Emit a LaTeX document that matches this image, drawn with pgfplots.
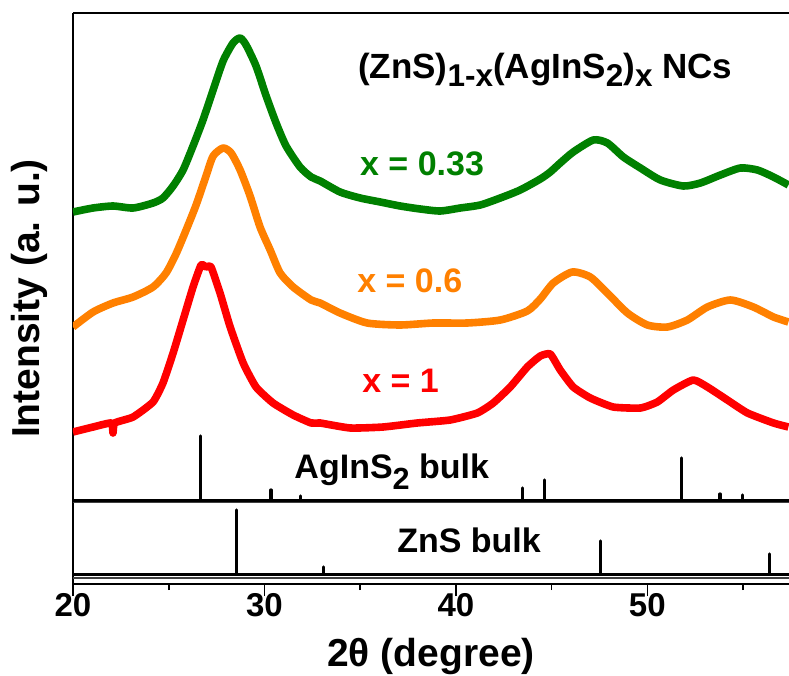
\documentclass[border=0pt]{standalone}
\usepackage{fontspec}
\setmainfont{Liberation Sans}
\usepackage{graphicx}
\usepackage{pgfplots}
\pgfplotsset{compat=1.18}
\definecolor{cgreen}{RGB}{0,128,0}
\definecolor{corange}{RGB}{255,128,0}
\definecolor{cred}{RGB}{255,0,0}
\newcommand\sub[2][0.25em]{\raisebox{-#1}{\scalebox{0.9}{#2}}}
\begin{document}
\begin{tikzpicture}
\begin{axis}[
  scale only axis, width=358pt, height=285.5pt,
  xmin=20, xmax=57.4, ymin=-1, ymax=570,
  axis x line*=box, axis y line*=left,
  axis line style={line width=0.8pt},
  xtick={20,30,40,50}, minor xtick={25,35,45,55},
  ytick=\empty,
  xtick pos=bottom,
  tick align=outside,
  major tick length=6pt, minor tick length=3pt,
  every tick/.style={black, line width=0.8pt},
  tick label style={font=\bfseries\fontsize{16.5}{19}\selectfont},
  /pgf/number format/assume math mode=true,
  xticklabel style={anchor=base, yshift=-10pt},
  xlabel={2θ (degree)}, ylabel={Intensity (a. u.)},
  label style={font=\bfseries\fontsize{19.5}{22}\selectfont},
  xlabel style={at={(axis description cs:0.5,0)}, anchor=base, yshift=-41pt},
  ylabel style={at={(axis description cs:-0.0461,0.5)}, anchor=base},
  unbounded coords=jump,
]
% baselines
\addplot[black, line width=1.5pt] coordinates {(20,83) (57.4,83)};
\addplot[black!75, line width=0.6pt] coordinates {(20,80.5) (57.4,80.5)};
\addplot[black, line width=1.5pt] coordinates {(20,9) (57.4,9)};
\addplot[black!75, line width=0.6pt] coordinates {(20,5) (57.4,5)};
% AgInS2 bulk sticks
\addplot[black, line width=1.6pt, line cap=round] coordinates {
 (26.65,83) (26.65,147) (26.65,nan)
 (30.34,83) (30.34,93) (30.34,nan)
 (31.89,83) (31.89,87) (31.89,nan)
 (43.46,83) (43.46,95) (43.46,nan)
 (44.62,83) (44.62,103) (44.62,nan)
 (51.78,83) (51.78,125) (51.78,nan)
 (53.80,83) (53.80,89) (53.80,nan)
 (54.98,83) (54.98,88)
};
% ZnS bulk sticks
\addplot[black, line width=1.6pt, line cap=round] coordinates {
 (28.55,9) (28.55,73) (28.55,nan)
 (33.10,9) (33.10,16) (33.10,nan)
 (47.54,9) (47.54,42) (47.54,nan)
 (56.40,9) (56.40,29)
};
% x = 0.33
\addplot[cgreen, line width=3.8pt, line join=round, smooth, tension=0.4] coordinates {
(20.00,371) (21.05,375) (22.09,377) (23.14,375) (24.18,380) (24.70,385) (25.23,397) (25.75,413) (26.27,437) (26.79,463) (27.32,493) (27.84,522) (28.36,540) (28.73,545) (29.04,538) (29.56,517) (30.09,487) (30.61,460) (31.13,437) (31.86,416) (32.44,406) (32.91,402) (33.95,391) (35.00,385) (36.05,381) (37.09,377) (38.14,374) (39.18,372) (40.23,375) (41.27,378) (42.32,385) (43.36,393) (44.41,404) (44.93,411) (45.45,420) (46.13,431) (47.18,443) (47.91,440) (48.75,426) (49.64,415) (50.68,403) (51.88,397) (52.77,400) (53.82,408) (54.86,415) (55.75,413) (56.59,406) (57.37,398)
};
% x = 0.6
\addplot[corange, line width=3.8pt, line join=round, smooth, tension=0.4] coordinates {
(20.00,256) (21.05,271) (22.09,280) (23.14,286) (24.18,296) (24.86,310) (25.38,329) (25.91,353) (26.43,378) (26.95,407) (27.32,427) (27.84,435) (28.26,430) (28.73,413) (29.25,387) (29.77,356) (30.30,333) (30.82,310) (31.50,296) (32.44,283) (32.91,280) (33.95,270) (35.37,260) (37.09,258) (38.82,260) (40.59,260) (42.32,263) (43.73,272) (44.41,284) (45.09,300) (46.08,311) (47.02,306) (47.91,290) (48.96,270) (50.00,258) (51.05,256) (52.09,263) (53.14,276) (54.34,283) (55.54,276) (56.59,266) (57.37,261)
};
% x = 1
\addplot[cred, line width=3.8pt, line join=round, smooth, tension=0.3] coordinates {
(20.00,151) (21.05,156) (22.00,160) (22.09,150) (22.18,160) (23.14,166) (24.18,181) (24.70,200) (25.23,230) (25.75,263) (26.27,296) (26.69,318) (26.95,316) (27.21,316) (27.68,290) (28.21,256) (28.89,220) (29.56,196) (30.45,180) (31.50,168) (32.44,160) (32.91,160) (34.48,155) (36.20,156) (37.98,160) (39.70,163) (41.12,170) (41.95,180) (42.84,196) (43.73,216) (44.41,227) (44.93,229) (45.45,213) (46.13,196) (47.02,185) (48.22,176) (49.64,175) (50.52,181) (51.36,193) (52.40,203) (53.14,196) (54.18,183) (55.23,170) (56.59,160) (57.37,156)
};
% annotations
\node[font=\bfseries\fontsize{17.5}{20}\selectfont, anchor=base] at (axis cs:44.67,505) {(ZnS)\sub{1-x}(AgInS\sub{2})\sub{x} NCs};
\node[font=\bfseries\fontsize{17}{20}\selectfont, anchor=base west, text=cgreen] at (axis cs:34.63,408) {x = 0.33};
\node[font=\bfseries\fontsize{17}{20}\selectfont, anchor=base west, text=corange] at (axis cs:34.48,291) {x = 0.6};
\node[font=\bfseries\fontsize{17}{20}\selectfont, anchor=base west, text=cred] at (axis cs:34.74,191) {x = 1};
\node[font=\bfseries\fontsize{17}{20}\selectfont, anchor=base west] at (axis cs:31.2,105) {AgInS\sub[0.35em]{2} bulk};
\node[font=\bfseries\fontsize{17}{20}\selectfont, anchor=base west] at (axis cs:36.57,31) {ZnS bulk};
\end{axis}
\pgfresetboundingbox
\path[use as bounding box] ([shift={(-36.5pt,-46pt)}]current axis.south west) rectangle ([shift={(0pt,6.5pt)}]current axis.north east);
\end{tikzpicture}
\end{document}
